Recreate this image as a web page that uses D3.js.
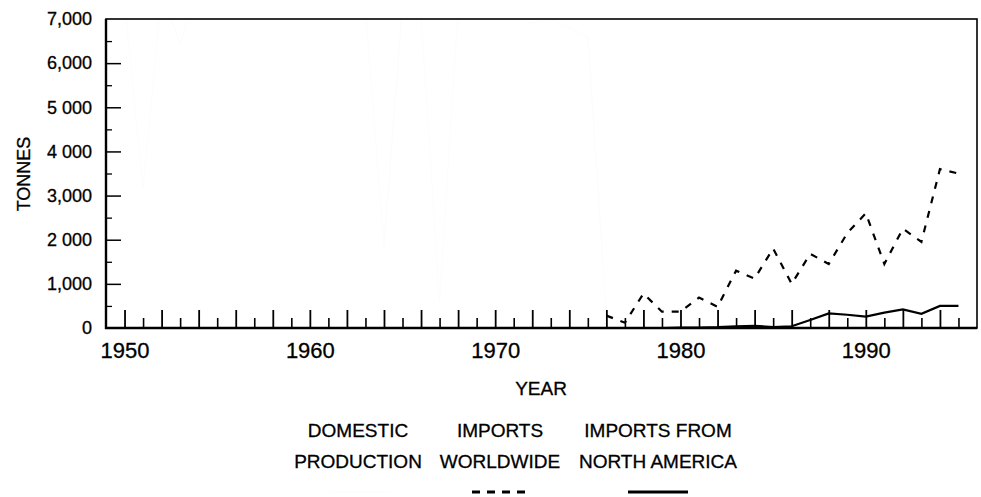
<!DOCTYPE html>
<html>
<head>
<meta charset="utf-8">
<script src="https://cdn.jsdelivr.net/npm/d3@7"></script>
<style>
  html, body { margin: 0; padding: 0; background: #fff; }
  svg { display: block; }
  text { font-family: "Liberation Sans", Arial, sans-serif; fill: #000; stroke: #000; stroke-width: 0.3px; }
</style>
</head>
<body>
<svg id="chart" width="981" height="497"></svg>
<script>
// Year ticks and labels
const yearLabels = [1950, 1960, 1970, 1980, 1990];
const majorYearTicks = [1950,1952,1954,1956,1958,1960,1962,1964,1966,1968,1970,1972,1974,1976,1978,1980,1982,1984,1986,1988,1990,1992,1994];
const minorYearTicks = [1951,1953,1955,1957,1959,1961,1963,1965,1967,1969,1971,1973,1975,1977,1979,1981,1983,1985,1987,1989,1991,1993,1995];

// Tonnage ticks and their printed labels
const tonneTicks = [0, 1000, 2000, 3000, 4000, 5000, 6000, 7000];
const tonneLabels = ["0", "1,000", "2 000", "3,000", "4 000", "5 000", "6,000", "7,000"];
const tonneMinorTicks = [500, 1500, 2500, 3500, 4500, 5500, 6500];

// Domestic production (very faint trace)
const domesticYears = [1950,1951,1952,1953,1954,1955,1956,1957,1958,1959,1960,1961,1962,1963,1964,1965,1966,1967,1968,1969,1970,1971,1972,1973,1974,1975,1976,1977];
const domesticTonnes = [7400,3150,7600,6450,7800,7500,7900,7700,8100,7600,7800,7400,7600,7200,1850,7300,7100,600,7200,7400,7300,7100,6900,7000,6800,6600,300,200];

// Imports worldwide
const worldYears = [1976,1977,1978,1979,1980,1981,1982,1983,1984,1985,1986,1987,1988,1989,1990,1991,1992,1993,1994,1995];
const worldTonnes = [280,120,780,370,370,690,480,1300,1120,1800,1000,1680,1450,2150,2600,1450,2250,1950,3600,3500];

// Imports from North America
const naYears = [1978,1979,1980,1981,1982,1983,1984,1985,1986,1987,1988,1989,1990,1991,1992,1993,1994,1995];
const naTonnes = [0,0,10,10,20,40,50,20,40,180,330,300,260,350,420,320,500,500];

const legendRow1 = ["DOMESTIC", "IMPORTS", "IMPORTS FROM"];
const legendRow2 = ["PRODUCTION", "WORLDWIDE", "NORTH AMERICA"];

const svg = d3.select("#chart");
const plotLeft = 106, plotRight = 977, plotTop = 19, plotBottom = 328;

const x = d3.scaleLinear().domain([1949, 1996]).range([plotLeft, plotRight]);
const y = d3.scaleLinear().domain([0, 7000]).range([plotBottom, plotTop]);

svg.append("defs").append("clipPath").attr("id", "plot-clip")
  .append("rect").attr("x", plotLeft).attr("y", plotTop)
  .attr("width", plotRight - plotLeft).attr("height", plotBottom - plotTop);

// Series
const line = d3.line().x(d => x(d[0])).y(d => y(d[1]));
const plot = svg.append("g").attr("clip-path", "url(#plot-clip)");

plot.append("path")
  .datum(domesticYears.map((yr, i) => [yr, domesticTonnes[i]]))
  .attr("d", line).attr("fill", "none")
  .attr("stroke", "#fcfcfc").attr("stroke-width", 1);

plot.append("path")
  .datum(worldYears.map((yr, i) => [yr, worldTonnes[i]]))
  .attr("d", line).attr("fill", "none")
  .attr("stroke", "#000").attr("stroke-width", 2.2)
  .attr("stroke-dasharray", "7,8");

plot.append("path")
  .datum(naYears.map((yr, i) => [yr, naTonnes[i]]))
  .attr("d", line).attr("fill", "none")
  .attr("stroke", "#000").attr("stroke-width", 2.2);

// X axis ticks (inward)
function styleTicks(g, w) {
  g.select(".domain").remove();
  g.selectAll(".tick line").attr("stroke", "#000").attr("stroke-width", w);
}
function styleLabels(g, size) {
  g.select(".domain").remove();
  g.selectAll("text").attr("font-size", size)
    .style("font-family", '"Liberation Sans", Arial, sans-serif')
    .style("stroke", "#000").style("stroke-width", "0.3px");
}
svg.append("g").attr("transform", `translate(0,${plotBottom})`)
  .call(d3.axisBottom(x).tickValues(majorYearTicks).tickSize(-18).tickFormat(""))
  .call(g => styleTicks(g, 1.8));
svg.append("g").attr("transform", `translate(0,${plotBottom})`)
  .call(d3.axisBottom(x).tickValues(minorYearTicks).tickSize(-10).tickFormat(""))
  .call(g => styleTicks(g, 1.6));
svg.append("g").attr("transform", `translate(0,${plotBottom})`)
  .call(d3.axisBottom(x).tickValues(yearLabels).tickSize(0).tickPadding(14).tickFormat(d3.format("d")))
  .call(g => styleLabels(g, 22));

// Y axis ticks (inward)
svg.append("g").attr("transform", `translate(${plotLeft},0)`)
  .call(d3.axisLeft(y).tickValues(tonneTicks.filter(v => v > 0 && v < 7000)).tickSize(-15).tickFormat(""))
  .call(g => styleTicks(g, 1.5));
svg.append("g").attr("transform", `translate(${plotLeft},0)`)
  .call(d3.axisLeft(y).tickValues(tonneMinorTicks).tickSize(-6).tickFormat(""))
  .call(g => styleTicks(g, 1.3));
svg.append("g").attr("transform", `translate(${plotLeft},0)`)
  .call(d3.axisLeft(y).tickValues(tonneTicks).tickSize(0).tickPadding(14)
    .tickFormat((d, i) => tonneLabels[i]))
  .call(g => styleLabels(g, 18));

// Frame
svg.append("rect").attr("x", plotLeft).attr("y", plotTop)
  .attr("width", plotRight - plotLeft).attr("height", plotBottom - plotTop)
  .attr("fill", "none").attr("stroke", "#000").attr("stroke-width", 1.6);
svg.append("path")
  .attr("d", `M${plotLeft},${plotTop}V${plotBottom}H${plotRight}`)
  .attr("fill", "none").attr("stroke", "#000").attr("stroke-width", 2.4);

// Axis titles
svg.append("text").attr("transform", `translate(30,174) rotate(-90)`)
  .attr("text-anchor", "middle").attr("font-size", 18).text("TONNES");
svg.append("text").attr("x", 541).attr("y", 395)
  .attr("text-anchor", "middle").attr("font-size", 19).text("YEAR");

// Legend
const legendX = [358, 500, 658];
legendRow1.forEach((t, i) => svg.append("text").attr("x", legendX[i]).attr("y", 437)
  .attr("text-anchor", "middle").attr("font-size", 19).text(t));
legendRow2.forEach((t, i) => svg.append("text").attr("x", legendX[i]).attr("y", 468)
  .attr("text-anchor", "middle").attr("font-size", 19).text(t));

svg.append("line").attr("x1", 330).attr("x2", 388).attr("y1", 492).attr("y2", 492)
  .attr("stroke", "#fcfcfc").attr("stroke-width", 1);
svg.append("line").attr("x1", 472).attr("x2", 530).attr("y1", 492).attr("y2", 492)
  .attr("stroke", "#000").attr("stroke-width", 3).attr("stroke-dasharray", "8,7");
svg.append("line").attr("x1", 628).attr("x2", 688).attr("y1", 492).attr("y2", 492)
  .attr("stroke", "#000").attr("stroke-width", 3);
</script>
</body>
</html>
